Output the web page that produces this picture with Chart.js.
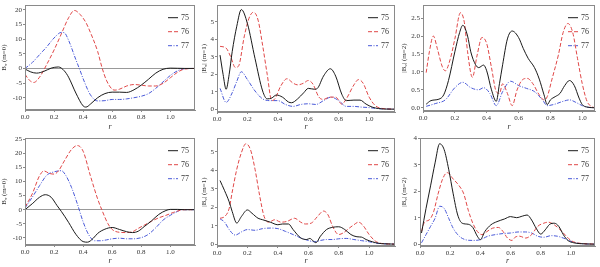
<!DOCTYPE html>
<html><head><meta charset="utf-8">
<script src="https://cdn.jsdelivr.net/npm/chart.js@4"></script>
<style>
html,body{margin:0;padding:0;background:#fff;width:600px;height:267px;overflow:hidden}
.p{position:absolute}
canvas{display:block}
</style></head><body>
<div class="p" style="left:0;top:0"><canvas id="c1" width="200" height="133"></canvas></div>
<div class="p" style="left:200px;top:0"><canvas id="c2" width="200" height="133"></canvas></div>
<div class="p" style="left:400px;top:0"><canvas id="c3" width="200" height="133"></canvas></div>
<div class="p" style="left:0;top:133px"><canvas id="c4" width="200" height="134"></canvas></div>
<div class="p" style="left:200px;top:133px"><canvas id="c5" width="200" height="134"></canvas></div>
<div class="p" style="left:400px;top:133px"><canvas id="c6" width="200" height="134"></canvas></div>
<script>
// series labels
const seriesLabels = ['75', '76', '77'];
// x tick values
const xTickLabels = ['0.0', '0.2', '0.4', '0.6', '0.8', '1.0'];
const yTitles = ['Bᵩ (m=0)', '|Bᵩ| (m=1)', '|Bᵩ| (m=2)', 'Bᵩ (m=0)', '|Bᵩ| (m=1)', '|Bᵩ| (m=2)'];

// Panel 1 (top left)
const p1s75 = [[0,-0.2],[0.04,-1.2],[0.08,-1.6],[0.13,-1.0],[0.18,0.1],[0.23,0.5],[0.27,-0.8],[0.3,-3],[0.35,-8.4],[0.4,-12.8],[0.42,-13.2],[0.45,-12.2],[0.5,-10],[0.55,-8.6],[0.6,-8.1],[0.65,-8.1],[0.7,-8.2],[0.75,-7.3],[0.8,-5.7],[0.85,-3.7],[0.9,-1.6],[0.95,-0.3],[1.0,0.1],[1.05,0.05],[1.1,0],[1.17,0]];
const p1s76 = [[0,-2],[0.03,-4],[0.06,-4.8],[0.1,-3],[0.15,1.4],[0.2,6.3],[0.25,11.8],[0.3,17.3],[0.34,19.8],[0.38,18.4],[0.42,15.6],[0.45,12.3],[0.5,5.8],[0.53,0.3],[0.56,-4],[0.6,-7.1],[0.62,-7.4],[0.65,-7.1],[0.7,-6],[0.75,-5.5],[0.8,-5.7],[0.85,-6],[0.9,-6],[0.95,-5.1],[1.0,-3.2],[1.05,-1.3],[1.1,-0.2],[1.17,0]];
const p1s77 = [[0,0],[0.05,2],[0.1,4.7],[0.15,7.4],[0.2,10.4],[0.25,12.3],[0.27,12.2],[0.3,9.6],[0.35,3],[0.38,-0.8],[0.4,-3.5],[0.45,-9],[0.5,-11.1],[0.55,-11],[0.6,-10.6],[0.65,-10.6],[0.7,-10.4],[0.75,-10],[0.8,-9.5],[0.85,-8.6],[0.9,-6.8],[0.95,-4.6],[1.0,-2.4],[1.05,-0.8],[1.1,-0.1],[1.17,0]];

// Panel 2 (top middle)
const p2s75 = [[0.02,3.1],[0.04,2.0],[0.06,1.15],[0.08,2.0],[0.1,3.3],[0.13,4.75],[0.16,5.7],[0.2,4.9],[0.25,2.9],[0.3,1.05],[0.33,0.6],[0.36,0.65],[0.39,0.82],[0.43,0.7],[0.47,0.42],[0.49,0.38],[0.53,0.6],[0.57,0.95],[0.6,1.2],[0.64,1.15],[0.66,1.2],[0.7,1.9],[0.745,2.32],[0.78,1.9],[0.82,0.87],[0.85,0.5],[0.9,0.53],[0.94,0.53],[0.98,0.3],[1.02,0.13],[1.06,0.05],[1.1,0.02],[1.17,0.01]];
const p2s76 = [[0.02,3.6],[0.06,3.5],[0.09,3.0],[0.12,2.4],[0.14,2.45],[0.18,4.2],[0.21,5.2],[0.24,5.55],[0.27,5.1],[0.3,3.65],[0.33,2.0],[0.36,0.5],[0.38,0.6],[0.42,1.35],[0.46,1.75],[0.5,1.5],[0.53,1.4],[0.57,1.5],[0.6,1.65],[0.63,1.45],[0.67,0.7],[0.7,0.57],[0.74,0.7],[0.78,0.7],[0.82,0.3],[0.85,0.6],[0.9,1.4],[0.93,1.7],[0.96,1.5],[1.0,0.7],[1.04,0.22],[1.08,0.06],[1.17,0.01]];
const p2s77 = [[0.02,1.2],[0.06,0.4],[0.1,0.95],[0.13,1.6],[0.16,2.15],[0.2,1.7],[0.25,1.05],[0.3,0.6],[0.35,0.5],[0.4,0.5],[0.45,0.28],[0.5,0.17],[0.55,0.28],[0.6,0.32],[0.65,0.28],[0.7,0.5],[0.75,0.7],[0.8,0.5],[0.85,0.17],[0.9,0.17],[0.95,0.13],[1.0,0.1],[1.05,0.05],[1.17,0.01]];

// Panel 3 (top right)
const p3s75 = [[0.02,0.1],[0.05,0.2],[0.1,0.24],[0.13,0.36],[0.16,0.76],[0.2,1.56],[0.23,2.1],[0.25,2.3],[0.28,2.0],[0.3,1.56],[0.33,1.2],[0.35,1.12],[0.38,1.19],[0.4,1.03],[0.43,0.5],[0.46,0.18],[0.48,0.67],[0.5,1.2],[0.53,1.92],[0.56,2.14],[0.6,1.96],[0.63,1.65],[0.66,1.38],[0.7,1.12],[0.73,0.8],[0.76,0.36],[0.78,0.09],[0.8,0.22],[0.83,0.31],[0.86,0.4],[0.89,0.62],[0.92,0.76],[0.95,0.62],[0.98,0.27],[1.0,0.09],[1.03,0.02],[1.08,0]];
const p3s76 = [[0.02,0.98],[0.04,1.56],[0.065,2.0],[0.09,1.65],[0.12,1.16],[0.14,1.03],[0.17,1.34],[0.2,1.92],[0.235,2.65],[0.26,2.37],[0.28,1.56],[0.31,0.85],[0.34,1.47],[0.37,1.96],[0.4,1.79],[0.43,1.12],[0.46,0.45],[0.48,0.4],[0.5,0.67],[0.53,0.4],[0.56,0.06],[0.59,0.49],[0.62,0.76],[0.655,0.82],[0.69,0.67],[0.73,0.36],[0.76,0.22],[0.78,0.31],[0.81,0.8],[0.85,1.47],[0.88,2.1],[0.91,2.35],[0.94,2.1],[0.97,1.38],[1.0,0.67],[1.03,0.18],[1.06,0.03],[1.08,0]];
const p3s77 = [[0.02,0.04],[0.08,0.12],[0.14,0.22],[0.2,0.56],[0.25,0.71],[0.3,0.56],[0.35,0.5],[0.38,0.56],[0.42,0.4],[0.46,0.06],[0.5,0.45],[0.55,0.74],[0.6,0.62],[0.65,0.54],[0.7,0.45],[0.75,0.22],[0.78,0.06],[0.82,0.09],[0.88,0.18],[0.92,0.22],[0.96,0.15],[1.0,0.06],[1.04,0.01],[1.08,0]];

// Panel 4 (bottom left)
const p4s75 = [[0,0],[0.05,2.1],[0.1,4.4],[0.14,5.3],[0.18,4.4],[0.22,1.5],[0.25,-0.6],[0.3,-4.5],[0.35,-8.7],[0.4,-11.3],[0.43,-11.5],[0.47,-10.1],[0.5,-8.4],[0.55,-6.9],[0.6,-6.3],[0.65,-7],[0.7,-7.8],[0.74,-8.1],[0.78,-7.6],[0.82,-6],[0.87,-4],[0.92,-1.7],[0.97,-0.3],[1.0,0.1],[1.05,0.1],[1.1,0],[1.17,0]];
const p4s76 = [[0,0.9],[0.05,5.6],[0.1,12],[0.13,13.7],[0.17,12.8],[0.2,12.6],[0.23,13.7],[0.27,17.2],[0.32,21.3],[0.36,22.7],[0.4,20.7],[0.45,12],[0.5,3.8],[0.53,-0.2],[0.57,-4.9],[0.6,-7],[0.65,-8],[0.7,-8.1],[0.74,-7.8],[0.78,-6.6],[0.82,-5.5],[0.87,-4.1],[0.92,-2.9],[0.97,-2],[1.02,-1],[1.07,-0.2],[1.1,0],[1.17,0]];
const p4s77 = [[0,0.6],[0.05,4.4],[0.1,8.5],[0.15,12.2],[0.2,13.4],[0.25,13.8],[0.28,12.2],[0.32,7.9],[0.36,2.1],[0.4,-4.3],[0.44,-9],[0.48,-11],[0.52,-11],[0.56,-10.7],[0.6,-10.3],[0.65,-10.1],[0.7,-10.3],[0.75,-10.3],[0.8,-9.9],[0.85,-8.7],[0.9,-6.4],[0.95,-3.7],[1.0,-2],[1.05,-0.6],[1.08,0],[1.17,0]];

// Panel 5 (bottom middle)
const p5s75 = [[0.02,3.45],[0.05,2.9],[0.08,2.3],[0.1,1.77],[0.13,1.15],[0.16,1.5],[0.2,1.86],[0.23,1.68],[0.27,1.41],[0.3,1.33],[0.35,1.2],[0.4,1.06],[0.43,1.1],[0.47,1.1],[0.5,0.8],[0.55,0.35],[0.59,0.26],[0.61,0.32],[0.63,0.2],[0.65,0.09],[0.68,0.44],[0.72,0.8],[0.76,0.92],[0.8,0.95],[0.84,0.8],[0.88,0.53],[0.92,0.41],[0.95,0.39],[0.98,0.26],[1.02,0.14],[1.06,0.06],[1.1,0.03],[1.17,0.01]];
const p5s76 = [[0.02,1.41],[0.05,1.5],[0.08,1.94],[0.1,2.83],[0.13,4.06],[0.16,4.95],[0.19,5.44],[0.22,5.12],[0.25,4.06],[0.28,2.65],[0.31,1.5],[0.34,1.2],[0.38,1.33],[0.42,1.2],[0.46,1.24],[0.51,1.41],[0.55,1.2],[0.58,1.1],[0.62,1.15],[0.66,1.5],[0.7,1.8],[0.73,1.59],[0.76,0.97],[0.8,0.53],[0.83,0.62],[0.87,0.88],[0.9,1.06],[0.93,1.2],[0.96,1.02],[1.0,0.53],[1.04,0.18],[1.08,0.05],[1.17,0.01]];
const p5s77 = [[0.02,1.38],[0.05,1.2],[0.08,0.8],[0.12,0.5],[0.16,0.67],[0.2,0.8],[0.25,0.76],[0.3,0.85],[0.35,0.88],[0.4,0.85],[0.45,0.7],[0.5,0.53],[0.55,0.35],[0.6,0.21],[0.64,0.14],[0.68,0.21],[0.72,0.26],[0.76,0.26],[0.8,0.3],[0.85,0.32],[0.9,0.26],[0.95,0.2],[1.0,0.14],[1.05,0.06],[1.17,0.01]];

// Panel 6 (bottom right)
const p6s75 = [[0.01,0.42],[0.04,1.35],[0.07,2.2],[0.1,3.07],[0.13,3.79],[0.16,3.57],[0.19,2.83],[0.22,1.9],[0.25,1.1],[0.28,0.79],[0.32,0.75],[0.35,0.63],[0.38,0.3],[0.4,0.17],[0.43,0.48],[0.47,0.73],[0.51,0.85],[0.56,0.95],[0.6,1.04],[0.64,1.0],[0.68,1.06],[0.71,1.1],[0.74,0.91],[0.77,0.6],[0.8,0.38],[0.83,0.54],[0.86,0.75],[0.89,0.79],[0.92,0.67],[0.95,0.36],[0.98,0.14],[1.02,0.05],[1.06,0.02],[1.16,0]];
const p6s76 = [[0.01,0.48],[0.03,0.83],[0.06,0.91],[0.09,1.22],[0.12,1.9],[0.15,2.46],[0.18,2.7],[0.22,2.46],[0.26,2.2],[0.29,1.9],[0.32,1.28],[0.35,0.79],[0.38,0.48],[0.41,0.36],[0.44,0.46],[0.48,0.6],[0.52,0.63],[0.55,0.48],[0.58,0.23],[0.61,0.14],[0.63,0.26],[0.66,0.3],[0.7,0.23],[0.74,0.36],[0.78,0.67],[0.82,0.79],[0.85,0.83],[0.89,0.73],[0.93,0.54],[0.97,0.3],[1.0,0.14],[1.04,0.05],[1.16,0]];
const p6s77 = [[0.01,0.05],[0.04,0.36],[0.07,0.67],[0.1,0.98],[0.13,1.43],[0.16,1.35],[0.19,0.98],[0.22,0.6],[0.26,0.3],[0.3,0.17],[0.35,0.14],[0.4,0.17],[0.45,0.3],[0.5,0.36],[0.55,0.4],[0.6,0.42],[0.65,0.46],[0.7,0.46],[0.74,0.42],[0.78,0.3],[0.82,0.26],[0.87,0.32],[0.91,0.3],[0.95,0.23],[1.0,0.11],[1.05,0.03],[1.16,0]];

const panelSeries = [
  [p1s75, p1s76, p1s77], [p2s75, p2s76, p2s77], [p3s75, p3s76, p3s77],
  [p4s75, p4s76, p4s77], [p5s75, p5s76, p5s77], [p6s75, p6s76, p6s77]
];

// layout / style (not data)
const layouts = [
  {id:'c1', yAxisW:25, xAxisH:23, xmax:1.17, ymin:-14.2, ymax:21.6, step:5, dec:0, zero:true},
  {id:'c2', yAxisW:17, xAxisH:21, xmax:1.17, ymin:-0.15, ymax:5.95, step:1, dec:0, zero:false},
  {id:'c3', yAxisW:23, xAxisH:22, xmax:1.08, ymin:-0.09, ymax:2.86, step:0.5, dec:1, zero:false},
  {id:'c4', yAxisW:25, xAxisH:22, xmax:1.17, ymin:-12.5, ymax:25.3, step:5, dec:0, zero:true},
  {id:'c5', yAxisW:17, xAxisH:21, xmax:1.17, ymin:-0.09, ymax:5.74, step:1, dec:0, zero:false},
  {id:'c6', yAxisW:20, xAxisH:21, xmax:1.16, ymin:-0.07, ymax:4.0, step:1, dec:0, zero:false}
];
const colors = ['#1a1a1a', '#e04848', '#4a5ad8'];
const dashes = [[], [4, 2], [4, 1.5, 1, 1.5]];
const frameColor = '#8a8a8a';
const tickFont = {family: 'Liberation Serif', size: 7};
const textColor = '#333';

const framePlugin = {
  id: 'frame',
  afterDraw(chart) {
    const a = chart.chartArea, c = chart.ctx;
    c.save();
    c.strokeStyle = frameColor; c.lineWidth = 1;
    c.strokeRect(Math.round(a.left) + 0.5, Math.round(a.top) + 0.5, Math.round(a.right - a.left) - 1, Math.round(a.bottom - a.top) - 1);
    // legend
    chart.data.datasets.forEach((ds, i) => {
      const y = a.top + 12 + i * 14;
      c.beginPath();
      c.strokeStyle = ds.borderColor; c.lineWidth = 1;
      c.setLineDash(ds.borderDash || []);
      c.moveTo(a.right - 27, y + 0.5); c.lineTo(a.right - 17, y + 0.5);
      c.stroke();
      c.setLineDash([]);
      c.fillStyle = textColor;
      c.font = '8px "Liberation Serif"';
      c.textBaseline = 'middle';
      c.fillText(ds.label, a.right - 14, y + 0.5);
    });
    c.restore();
  }
};

layouts.forEach((L, idx) => {
  const datasets = panelSeries[idx].map((s, i) => ({
    label: seriesLabels[i],
    data: s.map(p => ({x: p[0], y: p[1]})),
    borderColor: colors[i],
    borderDash: dashes[i],
    borderWidth: 1,
    pointRadius: 0,
    cubicInterpolationMode: 'monotone',
    fill: false
  }));
  new Chart(document.getElementById(L.id), {
    type: 'line',
    data: {datasets},
    options: {
      animation: false, responsive: false, events: [],
      layout: {padding: {top: 2, right: 5, left: 0, bottom: 0}},
      plugins: {legend: {display: false}, tooltip: {enabled: false}},
      scales: {
        x: {
          type: 'linear', min: 0, max: L.xmax,
          ticks: {stepSize: 0.2, includeBounds: false, maxRotation: 0, autoSkip: false,
            callback: v => { const s = v.toFixed(1); return xTickLabels.includes(s) ? s : ''; },
            font: tickFont, color: textColor, padding: 1},
          grid: {drawOnChartArea: false, tickLength: 2, tickColor: frameColor},
          border: {color: frameColor},
          title: {display: true, text: 'r', font: {family: 'Liberation Serif', size: 8, style: 'italic'}, color: textColor, padding: {top: 0, bottom: 1}},
          afterFit: s => { s.height = L.xAxisH; }
        },
        y: {
          type: 'linear', min: L.ymin, max: L.ymax,
          ticks: {stepSize: L.step, includeBounds: false, autoSkip: false,
            callback: v => v.toFixed(L.dec), font: tickFont, color: textColor, padding: 1},
          grid: {
            drawOnChartArea: L.zero, tickLength: 2, tickColor: frameColor,
            color: c => (c.tick && c.tick.value === 0) ? '#999' : 'rgba(0,0,0,0)'
          },
          border: {color: frameColor},
          title: {display: true, text: yTitles[idx], font: {family: 'Liberation Serif', size: 7}, color: textColor, padding: {top: 0, bottom: 1}},
          afterFit: s => { s.width = L.yAxisW; }
        }
      }
    },
    plugins: [framePlugin]
  });
});
</script>
</body></html>
